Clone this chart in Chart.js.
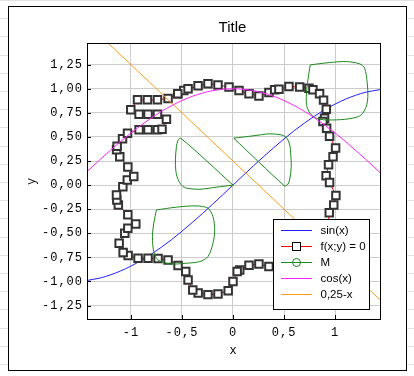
<!DOCTYPE html>
<html>
<head>
<meta charset="utf-8">
<script src="https://cdn.jsdelivr.net/npm/chart.js@4"></script>
<style>
  html, body { margin: 0; padding: 0; }
  body {
    width: 414px; height: 376px; overflow: hidden; position: relative;
    background-color: #fff;
    background-image: repeating-linear-gradient(to bottom, #e2e2e2 0, #e2e2e2 1px, transparent 1px, transparent 18.2px);
  }
  #panel { position: absolute; left: 8px; top: 6px; width: 397px; height: 363px; border: 1px solid #000; background: #fff; }
  #myChart { position: absolute; left: 0; top: 0; }
</style>
</head>
<body>
<div id="panel"></div>
<canvas id="myChart" width="414" height="376"></canvas>
<script>
const curveX = [-1.43, -1.3, -1.2, -1.1, -1.0, -0.9, -0.8, -0.7, -0.6, -0.5, -0.4, -0.3, -0.2, -0.1, 0,
  0.1, 0.2, 0.3, 0.4, 0.5, 0.6, 0.7, 0.8, 0.9, 1.0, 1.1, 1.2, 1.3, 1.44];
const sinY = [-0.990, -0.964, -0.932, -0.891, -0.841, -0.783, -0.717, -0.644, -0.565, -0.479, -0.389, -0.296, -0.199, -0.100, 0,
  0.100, 0.199, 0.296, 0.389, 0.479, 0.565, 0.644, 0.717, 0.783, 0.841, 0.891, 0.932, 0.964, 0.991];
const cosY = [0.140, 0.267, 0.362, 0.454, 0.540, 0.622, 0.697, 0.765, 0.825, 0.878, 0.921, 0.955, 0.980, 0.995, 1,
  0.995, 0.980, 0.955, 0.921, 0.878, 0.825, 0.765, 0.697, 0.622, 0.540, 0.454, 0.362, 0.267, 0.130];

const lineX = [-1.43, 1.44];
const lineY = [1.68, -1.19];

// f(x;y) = 0, traced round the closed curve
const fX = [-0.541, -0.482, -0.440, -0.342, -0.245, -0.147, -0.039, 0.059, 0.157, 0.254,
  0.352, 0.408, 0.450, 0.548, 0.653, 0.744, 0.783, 0.848, 0.887, 0.914,
  0.897, 0.881, 0.917, 0.946, 1.005, 0.980, 0.936, 0.912, 0.946, 1.008,
  0.987, 0.943, 0.930, 0.910, 0.868, 0.790, 0.692, 0.574, 0.457,
  0.352, 0.254, 0.157, 0.066, 0.041, 0.000, -0.047, -0.147, -0.245, -0.341,
  -0.394, -0.440, -0.463, -0.538, -0.636, -0.734, -0.832, -0.930, -1.027, -1.076,
  -1.115, -1.060, -1.030, -0.952, -1.030, -1.123, -1.138, -1.141, -1.079, -1.035,
  -0.972, -1.030, -1.109, -1.140, -1.135, -1.082, -1.033,
  -0.920, -0.832, -0.740, -0.695, -0.652, -0.740, -0.832, -0.920, -1.001, -0.935,
  -0.838, -0.740, -0.636, -0.541];
const fY = [0.947, 0.981, 0.999, 1.030, 1.051, 1.040, 1.017, 0.981, 0.947, 0.926,
  0.961, 0.989, 0.996, 1.023, 1.017, 1.006, 0.989, 0.947, 0.882, 0.788,
  0.695, 0.659, 0.589, 0.506, 0.386, 0.293, 0.210, 0.096, 0.028, -0.107,
  -0.206, -0.286, -0.420, -0.500, -0.590, -0.694, -0.766, -0.818, -0.849,
  -0.846, -0.818, -0.832, -0.881, -0.898, -1.000, -1.096, -1.130, -1.137, -1.119,
  -1.088, -0.984, -0.898, -0.834, -0.777, -0.761, -0.759, -0.759, -0.730, -0.699,
  -0.603, -0.499, -0.448, -0.403, -0.309, -0.206, -0.154, -0.102, -0.016, 0.054,
  0.088, 0.189, 0.293, 0.366, 0.404, 0.480, 0.537,
  0.574, 0.574, 0.574, 0.580, 0.684, 0.736, 0.736, 0.736, 0.781, 0.885,
  0.885, 0.885, 0.900, 0.947];

// M: four closed loops, each starting and ending at its sharp corner
const m1X = [0.007, 0.196, 0.359, 0.474, 0.516, 0.538, 0.558, 0.565, 0.571, 0.555, 0.540, 0.523, 0.501, 0.007];
const m1Y = [0.487, 0.511, 0.532, 0.521, 0.500, 0.469, 0.407, 0.331, 0.192, 0.054, 0.012, -0.005, -0.006, 0.487];
const m2X = [0, -0.163, -0.326, -0.440, -0.490, -0.525, -0.548, -0.560, -0.564, -0.554, -0.540, -0.512, 0];
const m2Y = [0, -0.022, -0.043, -0.035, -0.015, 0.030, 0.088, 0.150, 0.262, 0.400, 0.460, 0.487, 0];
const m3X = [0.757, 0.946, 1.110, 1.240, 1.289, 1.315, 1.321, 1.305, 1.256, 1.174, 1.012, 0.848, 0.767, 0.724, 0.718, 0.734, 0.757];
const m3Y = [1.248, 1.272, 1.282, 1.259, 1.214, 1.058, 0.919, 0.815, 0.729, 0.695, 0.677, 0.684, 0.729, 0.815, 0.919, 1.092, 1.248];
const m4X = [-0.750, -0.554, -0.358, -0.245, -0.196, -0.179, -0.196, -0.245, -0.326, -0.456, -0.619, -0.734, -0.776, -0.789, -0.776, -0.750];
const m4Y = [-0.258, -0.229, -0.216, -0.240, -0.327, -0.465, -0.603, -0.742, -0.794, -0.811, -0.818, -0.777, -0.691, -0.535, -0.396, -0.258];

const xTicks = [-1, -0.5, 0, 0.5, 1];
const yTicks = [-1.25, -1, -0.75, -0.5, -0.25, 0, 0.25, 0.5, 0.75, 1, 1.25];

const blue = '#2020ff';
const red = '#ff0000';
const green = '#1a8a1a';
const magenta = '#ff20ff';
const orange = '#ff9a20';

const pts = (xs, ys) => xs.map((x, i) => ({ x: x, y: ys[i] }));
const commaFmt = (v, d) => v.toFixed(d).replace('.', ',');

const lineSet = (label, data, color, order) => ({
  label: label, data: data, borderColor: color, borderWidth: 1,
  showLine: true, pointRadius: 0, order: order
});
const loopSet = (data, order) => Object.assign(lineSet('M', data, green, order), { tension: 0.3 });

const data = {
  datasets: [
    Object.assign(lineSet('sin(x)', pts(curveX, sinY), blue, 9), { cubicInterpolationMode: 'monotone' }),
    Object.assign(lineSet('f(x;y) = 0', pts(fX, fY), red, 8), {
      pointRadius: 5.3, pointStyle: 'rect', pointBackgroundColor: '#fff',
      pointBorderColor: '#333333', pointBorderWidth: 2
    }),
    loopSet(pts(m1X, m1Y), 7),
    loopSet(pts(m2X, m2Y), 6),
    loopSet(pts(m3X, m3Y), 5),
    loopSet(pts(m4X, m4Y), 4),
    Object.assign(lineSet('cos(x)', pts(curveX, cosY), magenta, 3), { cubicInterpolationMode: 'monotone' }),
    lineSet('0,25-x', pts(lineX, lineY), orange, 2)
  ]
};

const legendItems = [
  { text: 'sin(x)', color: blue, marker: null },
  { text: 'f(x;y) = 0', color: red, marker: 'rect' },
  { text: 'M', color: green, marker: 'circle' },
  { text: 'cos(x)', color: magenta, marker: null },
  { text: '0,25-x', color: orange, marker: null }
];

const framePlugin = {
  id: 'frame',
  beforeDraw(chart) {
    chart.ctx.letterSpacing = '1px';
  },
  beforeDatasetsDraw(chart) {
    chart.ctx.letterSpacing = '0px';
  },
  afterDatasetsDraw(chart) {
    const ctx = chart.ctx;
    const a = chart.chartArea;
    const sx = chart.scales.x, sy = chart.scales.y;
    ctx.save();
    ctx.letterSpacing = '0px';
    ctx.strokeStyle = '#000';
    ctx.lineWidth = 1;
    ctx.beginPath();
    xTicks.forEach(v => {
      const p = Math.round(sx.getPixelForValue(v)) + 0.5;
      ctx.moveTo(p, a.bottom); ctx.lineTo(p, a.bottom - 4);
    });
    yTicks.forEach(v => {
      const p = Math.round(sy.getPixelForValue(v)) + 0.5;
      ctx.moveTo(a.left, p); ctx.lineTo(a.left + 4, p);
    });
    ctx.stroke();
    ctx.strokeRect(Math.round(a.left) + 0.5, Math.round(a.top) + 0.5,
      Math.round(a.right - a.left), Math.round(a.bottom - a.top));

    // title
    ctx.fillStyle = '#000';
    ctx.font = '15px "Liberation Sans", Arial, sans-serif';
    ctx.textAlign = 'center';
    ctx.textBaseline = 'middle';
    ctx.fillText('Title', (a.left + a.right) / 2 - 1, 28);

    // legend box
    const bx = 273.5, by = 219.5, bw = 96, bh = 90;
    ctx.fillStyle = '#fff';
    ctx.fillRect(bx, by, bw, bh);
    ctx.strokeRect(bx, by, bw, bh);
    ctx.font = '11.5px "Liberation Sans", Arial, sans-serif';
    ctx.textAlign = 'left';
    legendItems.forEach((it, i) => {
      const y = 230.5 + i * 16;
      ctx.strokeStyle = it.color;
      ctx.beginPath(); ctx.moveTo(281, y); ctx.lineTo(312, y); ctx.stroke();
      if (it.marker === 'rect') {
        ctx.fillStyle = '#fff';
        ctx.fillRect(292.5, y - 4, 8, 8);
        ctx.strokeStyle = '#000';
        ctx.strokeRect(292.5, y - 4, 8, 8);
      } else if (it.marker === 'circle') {
        ctx.strokeStyle = it.color;
        ctx.beginPath(); ctx.arc(296.5, y, 4, 0, Math.PI * 2); ctx.stroke();
      }
      ctx.fillStyle = '#000';
      ctx.fillText(it.text, 320.5, y + 0.5);
    });
    ctx.restore();
  }
};

const tickFont = { family: '"Liberation Mono", "Courier New", monospace', size: 12 };

const config = {
  type: 'scatter',
  data: data,
  options: {
    responsive: false,
    animation: false,
    layout: { padding: { left: 25, right: 34, top: 43, bottom: 18 } },
    plugins: { legend: { display: false }, title: { display: false }, tooltip: { enabled: false } },
    scales: {
      x: {
        type: 'linear', min: -1.43, max: 1.44,
        afterBuildTicks: s => { s.ticks = xTicks.map(v => ({ value: v })); },
        afterFit: s => { s.height = 39; },
        grid: { color: '#cccccc', drawTicks: false },
        border: { display: false },
        ticks: { color: '#000', font: tickFont, padding: 7, maxRotation: 0,
          callback: v => commaFmt(v, v % 1 === 0 ? 0 : 1) },
        title: { display: true, text: 'x', color: '#000', font: tickFont, padding: 0 }
      },
      y: {
        type: 'linear', min: -1.39, max: 1.475,
        afterBuildTicks: s => { s.ticks = yTicks.map(v => ({ value: v })); },
        afterFit: s => { s.width = 62; },
        grid: { color: '#cccccc', drawTicks: false },
        border: { display: false },
        ticks: { color: '#000', font: tickFont, padding: 4,
          callback: v => commaFmt(v, 2) },
        title: { display: true, text: 'y', color: '#000', font: tickFont, padding: 0 }
      }
    }
  },
  plugins: [framePlugin]
};

const myChart = new Chart(document.getElementById('myChart'), config);
</script>
</body>
</html>
